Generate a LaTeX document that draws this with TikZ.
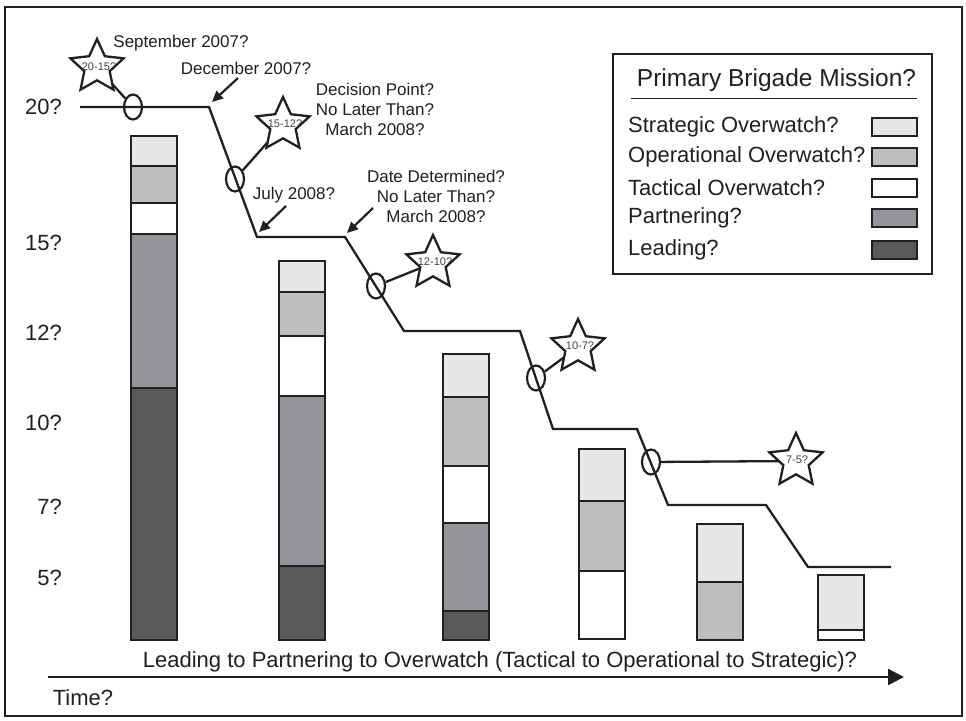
\documentclass[tikz,border=0pt]{standalone}
\usepackage{fontspec}
\setmainfont{Liberation Sans}
\usetikzlibrary{shapes.geometric,arrows.meta}
\definecolor{ink}{HTML}{231F20}
\definecolor{cstrat}{HTML}{E6E7E8}
\definecolor{coper}{HTML}{BCBEC0}
\definecolor{ctact}{HTML}{FFFFFF}
\definecolor{cpart}{HTML}{939598}
\definecolor{clead}{HTML}{58595B}
\tikzset{
  ann/.style={font=\fontsize{17}{20}\selectfont, text=ink, align=center, inner sep=0pt},
  ylab/.style={font=\fontsize{22}{26}\selectfont, text=ink, anchor=east, inner sep=0pt},
  legtext/.style={font=\fontsize{22}{26}\selectfont, text=ink, anchor=west, inner sep=0pt},
  mile/.style={shape=ellipse, draw=ink, line width=2.2pt, minimum width=18pt, minimum height=25pt, inner sep=0pt},
  starbox/.style={shape=star, star points=5, star point ratio=2.1, minimum size=56pt, inner sep=0pt, outer sep=0pt, draw=ink, fill=white, line width=2.3pt},
  startext/.style={font=\fontsize{11}{12}\selectfont, text=ink!85, inner sep=0pt},
  stepline/.style={draw=ink, line width=2.3pt},
  arr/.style={draw=ink, line width=2.2pt, -{Triangle[length=11pt,width=10pt]}},
  axisarrow/.style={draw=ink, line width=2.4pt, -{Triangle[length=16pt,width=16pt]}},
  seg/.style={draw=ink, line width=2.5pt},
  swatch/.style={draw=ink, line width=2.2pt},
}
\begin{document}
\begin{tikzpicture}[x=1pt,y=-1pt]
\useasboundingbox (0,0) rectangle (966,720);
\fill[white] (0,0) rectangle (966,720);
% frame
\draw[ink, line width=2pt] (5,7) rectangle (962,716);

% y labels
\node[ylab] (y20) at (62,107) {20?};
\node[ylab] (y15) at (62,243) {15?};
\node[ylab] (y12) at (62,333) {12?};
\node[ylab] (y10) at (62,423) {10?};
\node[ylab] (y7) at (62,507) {7?};
\node[ylab] (y5) at (62,578) {5?};

% bars
% bar 1
\filldraw[seg, fill=cstrat] (131,136) rectangle (177,166);
\filldraw[seg, fill=coper] (131,166) rectangle (177,203);
\filldraw[seg, fill=ctact] (131,203) rectangle (177,234);
\filldraw[seg, fill=cpart] (131,234) rectangle (177,388);
\filldraw[seg, fill=clead] (131,388) rectangle (177,640);
% bar 2
\filldraw[seg, fill=cstrat] (279,261) rectangle (325,292);
\filldraw[seg, fill=coper] (279,292) rectangle (325,336);
\filldraw[seg, fill=ctact] (279,336) rectangle (325,396);
\filldraw[seg, fill=cpart] (279,396) rectangle (325,566);
\filldraw[seg, fill=clead] (279,566) rectangle (325,640);
% bar 3
\filldraw[seg, fill=cstrat] (443,354) rectangle (489,397);
\filldraw[seg, fill=coper] (443,397) rectangle (489,466);
\filldraw[seg, fill=ctact] (443,466) rectangle (489,523);
\filldraw[seg, fill=cpart] (443,523) rectangle (489,611);
\filldraw[seg, fill=clead] (443,611) rectangle (489,640);
% bar 4
\filldraw[seg, fill=cstrat] (579,449) rectangle (625,501);
\filldraw[seg, fill=coper] (579,501) rectangle (625,571);
\filldraw[seg, fill=ctact] (579,571) rectangle (625,639);
% bar 5
\filldraw[seg, fill=cstrat] (697,524) rectangle (743,582);
\filldraw[seg, fill=coper] (697,582) rectangle (743,640);
% bar 6
\filldraw[seg, fill=cstrat] (818,575) rectangle (864,630);
\filldraw[seg, fill=ctact] (818,630) rectangle (864,640);

% step line
\coordinate (p0) at (80,107);
\coordinate (p1) at (209,107);
\coordinate (p2) at (257,237);
\coordinate (p3) at (345,237);
\coordinate (p4) at (404,331);
\coordinate (p5) at (520,331);
\coordinate (p6) at (553,429);
\coordinate (p7) at (637,429);
\coordinate (p8) at (668,505);
\coordinate (p9) at (766,505);
\coordinate (p10) at (808,567);
\coordinate (p11) at (891,567);
\draw[stepline] (p0) -- (p1) -- (p2) -- (p3) -- (p4) -- (p5) -- (p6) -- (p7) -- (p8) -- (p9) -- (p10) -- (p11);

% milestone ellipses
\node[mile] (e1) at (133,107) {};
\node[mile] (e2) at (235,179) {};
\node[mile] (e3) at (376,286) {};
\node[mile] (e4) at (536,378) {};
\node[mile] (e5) at (651,462) {};

% stars
\node[starbox] (s1) at (97,67) {};
\node[starbox] (s2) at (283,125) {};
\node[starbox] (s3) at (433,263) {};
\node[starbox] (s4) at (578,347) {};
\node[starbox] (s5) at (796,461) {};

\draw[stepline] (e1) -- (s1);
\draw[stepline] (e2) -- (s2);
\draw[stepline] (e3) -- (s3);
\draw[stepline] (e4) -- (s4);
\draw[stepline] (e5) -- (s5);

\node[startext] (t1) at (99,67) {20-15?};
\node[startext] (t2) at (285,124) {15-12?};
\node[startext] (t3) at (435,262) {12-10?};
\node[startext] (t4) at (580,346) {10-7?};
\node[startext] (t5) at (797,460) {7-5?};

% annotations
\node[ann] (sep) at (181,43) {September 2007?};
\node[ann] (dec) at (246,68) {December 2007?};
\node[ann] (dp) at (375,109) {Decision Point?\\No Later Than?\\March 2008?};
\node[ann] (jul) at (294,195) {July 2008?};
\node[ann] (dd) at (436,196) {Date Determined?\\No Later Than?\\March 2008?};

\coordinate (dectail) at (238,78);
\coordinate (dectip) at (212,102);
\coordinate (jultail) at (286,206);
\coordinate (jultip) at (259,232);
\coordinate (ddtail) at (373,208);
\coordinate (ddtip) at (347,233);
\draw[arr] (dectail) -- (dectip);
\draw[arr] (jultail) -- (jultip);
\draw[arr] (ddtail) -- (ddtip);

% legend
\draw[ink, line width=1.5pt] (613,54) rectangle (932,274);
\node[font=\fontsize{24.5}{28}\selectfont, text=ink, inner sep=0pt] (legtitle) at (776.5,80) {Primary Brigade Mission?};
\draw[ink, line width=1pt] (631,98) -- (917,98);
\node[legtext] (l1) at (628,127) {Strategic Overwatch?};
\node[legtext] (l2) at (628,157) {Operational Overwatch?};
\node[legtext] (l3) at (628,188) {Tactical Overwatch?};
\node[legtext] (l4) at (628,218) {Partnering?};
\node[legtext] (l5) at (628,250) {Leading?};
\filldraw[swatch, fill=cstrat] (872,118) rectangle (917,136);
\filldraw[swatch, fill=coper] (872,148) rectangle (917,166);
\filldraw[swatch, fill=ctact] (872,179) rectangle (917,197);
\filldraw[swatch, fill=cpart] (872,209) rectangle (917,227);
\filldraw[swatch, fill=clead] (872,241) rectangle (917,259);

% time axis
\node[font=\fontsize{22}{26}\selectfont, text=ink, inner sep=0pt] (axlabel) at (500,662) {Leading to Partnering to Overwatch (Tactical to Operational to Strategic)?};
\coordinate (t0) at (48,677);
\coordinate (tend) at (904,677);
\draw[axisarrow] (t0) -- (tend);
\node[font=\fontsize{22}{26}\selectfont, text=ink, inner sep=0pt] (time) at (83,698) {Time?};
\end{tikzpicture}
\end{document}
